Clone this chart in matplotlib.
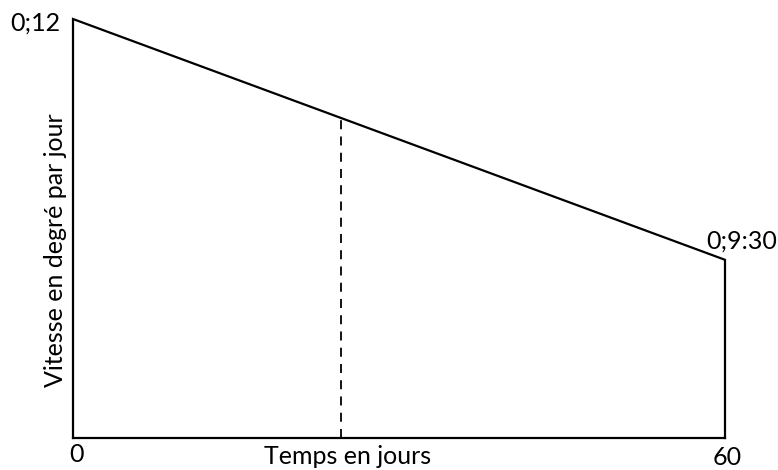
import matplotlib
matplotlib.use('Agg')
import matplotlib.pyplot as plt

# time in days, speed in minutes of degree per day (0;12 -> 12, 0;9:30 -> 9.5)
days = [0, 60]
speed = [12, 9.5]
labels = ['0;12', '0;9:30']
x_ticks = ['0', '60']
dash_day = 24.7
base = 7.65

plt.rcParams['font.family'] = ['Lato', 'DejaVu Sans']

W, H = 778, 470
fig = plt.figure(figsize=(W / 100, H / 100), dpi=100)
ax = fig.add_axes([73 / W, (H - 438) / H, 652 / W, (438 - 19) / H])
ax.set_xlim(days[0], days[1])
ax.set_ylim(base, speed[0])
ax.axis('off')

lw = 1.6
# outline of the trapezoid
ax.plot([days[0], days[0], days[1], days[1]], [base, speed[0], speed[1], base],
        color='black', lw=lw, clip_on=False, solid_joinstyle='miter')
ax.plot([days[0], days[1]], [base, base], color='black', lw=lw, clip_on=False)

# dashed vertical
y_dash = speed[0] + (speed[1] - speed[0]) * (dash_day - days[0]) / (days[1] - days[0])
ax.plot([dash_day, dash_day], [base, y_dash], color='black', lw=1.3, ls=(0, (5, 4)))

fs = 18


def px(x, y):
    return x / W, 1 - y / H


fig.text(*px(60, 31), labels[0], ha='right', va='baseline', fontsize=fs)
fig.text(*px(742, 249), labels[1], ha='center', va='baseline', fontsize=fs)
fig.text(*px(77, 462), x_ticks[0], ha='center', va='baseline', fontsize=fs)
fig.text(*px(727, 465), x_ticks[1], ha='center', va='baseline', fontsize=fs)
fig.text(*px(348, 464), 'Temps en jours', ha='center', va='baseline', fontsize=fs)
fig.text(*px(67, 250), 'Vitesse en degré par jour', rotation=90, ha='right', va='center',
         fontsize=fs)

fig.savefig('out.png', dpi=100)
